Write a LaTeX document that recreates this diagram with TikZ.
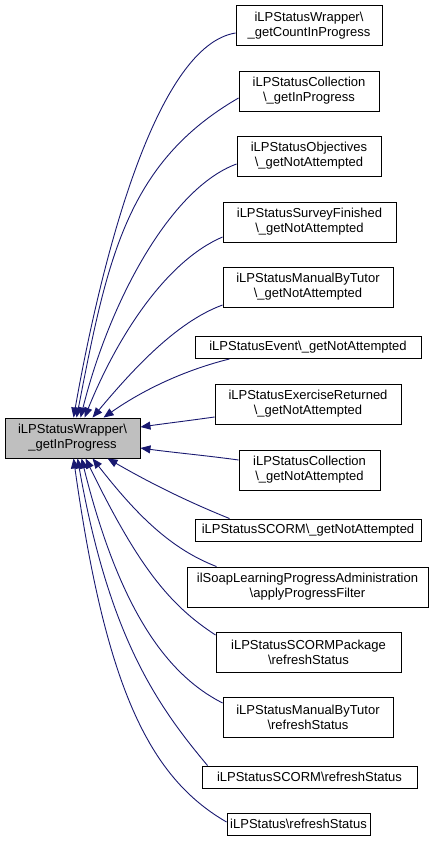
\documentclass[tikz,border=0pt]{standalone}
\usepackage{fontspec}
\setmainfont{Liberation Sans}
\usetikzlibrary{arrows.meta}
\definecolor{edgeblue}{RGB}{25,25,112}
\definecolor{maingrey}{RGB}{191,191,191}

\begin{document}
\begin{tikzpicture}[x=1pt,y=1pt,font=\fontsize{13}{15}\selectfont,
  fnbox/.style={draw=black,line width=0.9pt,fill=white,align=center,inner sep=0pt,minimum height=40pt},
  onebox/.style={fnbox,minimum height=22pt},
  mainbox/.style={fnbox,fill=maingrey},
  callarrow/.style={draw=edgeblue,line width=0.9pt,-{Triangle[length=10pt,width=8pt]}}]
\useasboundingbox (0,0) rectangle (436,-846);
% called function
\node[mainbox,minimum width=135pt] (main) at (72.5,-438) {iLPStatusWrapper\textbackslash\\\_getInProgress};
% callers
\node[fnbox,minimum width=146pt] (w1) at (309,-25.5) {iLPStatusWrapper\textbackslash\\\_getCountInProgress};
\node[fnbox,minimum width=140pt] (w2) at (309,-91) {iLPStatusCollection\\\textbackslash\_getInProgress};
\node[fnbox,minimum width=144pt] (w3) at (309,-156) {iLPStatusObjectives\\\textbackslash\_getNotAttempted};
\node[fnbox,minimum width=173pt] (w4) at (309.5,-222) {iLPStatusSurveyFinished\\\textbackslash\_getNotAttempted};
\node[fnbox,minimum width=170pt] (w5) at (308,-287) {iLPStatusManualByTutor\\\textbackslash\_getNotAttempted};
\node[onebox,minimum width=226pt] (w6) at (308,-347.5) {iLPStatusEvent\textbackslash\_getNotAttempted};
\node[fnbox,minimum width=186pt] (w7) at (308,-404) {iLPStatusExerciseReturned\\\textbackslash\_getNotAttempted};
\node[fnbox,minimum width=141pt] (w8) at (309.5,-470) {iLPStatusCollection\\\textbackslash\_getNotAttempted};
\node[onebox,minimum width=226pt] (w9) at (308,-530) {iLPStatusSCORM\textbackslash\_getNotAttempted};
\node[fnbox,minimum width=241pt] (w10) at (307.5,-587) {ilSoapLearningProgressAdministration\\\textbackslash applyProgressFilter};
\node[fnbox,minimum width=185pt] (w11) at (308.5,-652) {iLPStatusSCORMPackage\\\textbackslash refreshStatus};
\node[fnbox,minimum width=170pt] (w12) at (308,-717) {iLPStatusManualByTutor\\\textbackslash refreshStatus};
\node[onebox,minimum width=215pt] (w13) at (309.5,-777) {iLPStatusSCORM\textbackslash refreshStatus};
\node[onebox,minimum width=143pt] (w14) at (298.5,-824) {iLPStatus\textbackslash refreshStatus};
% calls into the top of the box
\draw[callarrow] ([yshift=-7.5pt]w1.west) .. controls +(189:78) and +(80:174) .. ([xshift=69pt]main.north west);
\draw[callarrow] ([yshift=-7pt]w2.west) .. controls +(210:130) and +(79:160) .. ([xshift=72pt]main.north west);
\draw[callarrow] ([yshift=-8pt]w3.west) .. controls +(200:70) and +(76:120) .. ([xshift=76pt]main.north west);
\draw[callarrow] ([yshift=-15pt]w4.west) .. controls +(203:60) and +(68:90) .. ([xshift=80pt]main.north west);
\draw[callarrow] ([yshift=-18pt]w5.west) .. controls +(200:50) and +(50:60) .. ([xshift=88pt]main.north west);
\draw[callarrow] ([xshift=35pt]w6.south west) .. controls +(194:45) and +(35:50) .. ([xshift=99pt]main.north west);
% calls into the side
\draw[callarrow] ([yshift=-13pt]w7.west) .. controls +(188:25) and +(8:25) .. ([yshift=11pt]main.east);
\draw[callarrow] ([yshift=10pt]w8.west) .. controls +(172:30) and +(-8:30) .. ([yshift=-10pt]main.east);
% calls into the bottom
\draw[callarrow] ([xshift=35pt]w9.north west) .. controls +(158:45) and +(-30:50) .. ([xshift=103pt]main.south west);
\draw[callarrow] ([xshift=30pt]w10.north west) .. controls +(159:50) and +(-52:70) .. ([xshift=88pt]main.south west);
\draw[callarrow] ([yshift=17pt]w11.west) .. controls +(147:55) and +(-64:120) .. ([xshift=81pt]main.south west);
\draw[callarrow] ([yshift=14pt]w12.west) .. controls +(153:60) and +(-76:160) .. ([xshift=77pt]main.south west);
\draw[callarrow] ([xshift=6pt]w13.north west) .. controls +(130:80) and +(-80:180) .. ([xshift=73pt]main.south west);
\draw[callarrow] ([yshift=2pt]w14.west) .. controls +(150:90) and +(-82:230) .. ([xshift=69pt]main.south west);
\end{tikzpicture}
\end{document}
